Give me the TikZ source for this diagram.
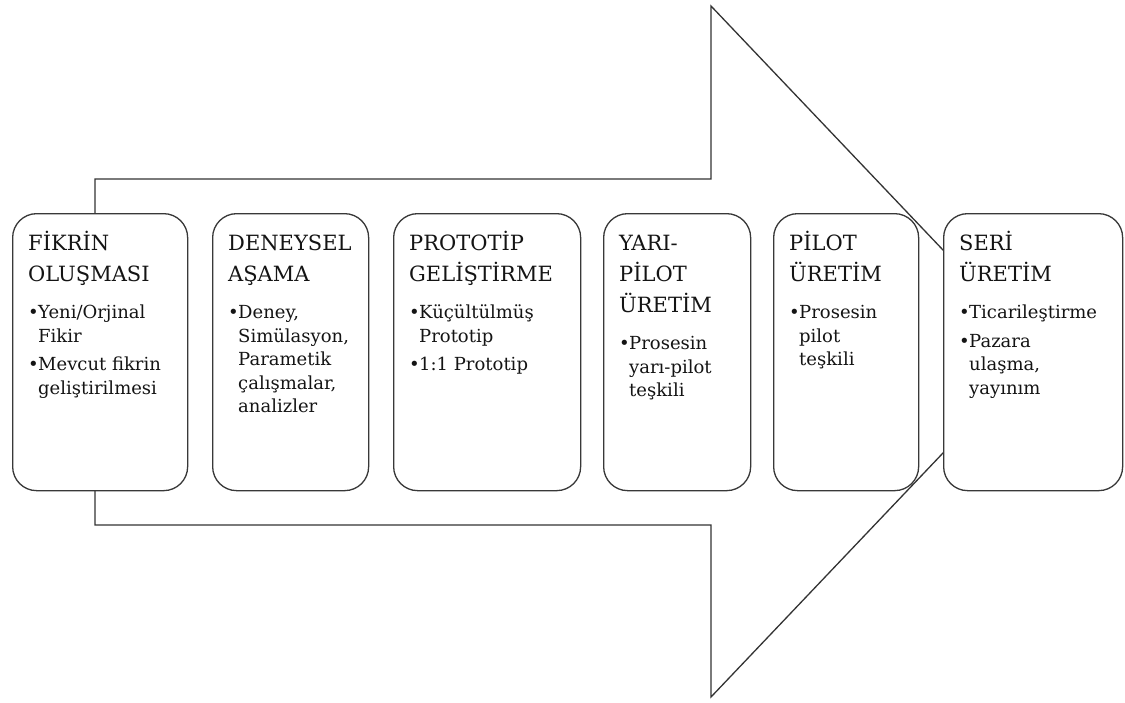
\documentclass[tikz,border=0pt]{standalone}
\usepackage{fontspec}
\setmainfont{DejaVu Serif}

% bullet item and continuation line with hanging indent
\newcommand\bitem{\makebox[10pt][l]{•}}
\newcommand\bcont{\hspace*{10pt}}
% stage label: title block followed by bullet block
\newcommand\stagelabel[2]{\parbox[t]{150pt}{\raggedright
  \fontsize{21}{31}\selectfont #1\par
  \vspace{14pt}\fontsize{18}{23.5}\selectfont #2\par}}

\begin{document}
\begin{tikzpicture}[x=1pt,y=-1pt,
  arrowline/.style={draw=black!80, line width=1.3pt, line join=miter},
  stagebox/.style={draw=black!78, line width=1.3pt, fill=white,
    rounded corners=24pt, minimum width=#1, minimum height=277pt,
    inner sep=0pt, anchor=north west},
  stagetext/.style={anchor=base west, inner sep=0pt, text=black!92}]

\useasboundingbox (0,0) rectangle (1125,702);
\fill[white] (0,0) rectangle (1125,702);

% big process arrow behind the stages
\draw[arrowline] (95,179) -- (711,179) -- (711,6) -- (1039.5,351.5)
  -- (711,697) -- (711,525) -- (95,525) -- cycle;

% stage boxes
\node[stagebox=175pt] (b1) at (12,213) {};
\node[stagebox=156pt] (b2) at (212,213) {};
\node[stagebox=187pt] (b3) at (393,213) {};
\node[stagebox=147pt] (b4) at (603,213) {};
\node[stagebox=145pt] (b5) at (773,213) {};
\node[stagebox=179pt] (b6) at (943,213) {};

% stage texts
\node[stagetext] (t1) at ([xshift=16pt,yshift=-37pt]b1.north west)
  {\stagelabel{FİKRİN\\OLUŞMASI}
   {\bitem Yeni/Orjinal\\\bcont Fikir\\[5pt]\bitem Mevcut fikrin\\\bcont geliştirilmesi}};
\node[stagetext] (t2) at ([xshift=16pt,yshift=-37pt]b2.north west)
  {\stagelabel{DENEYSEL\\AŞAMA}
   {\bitem Deney,\\\bcont Simülasyon,\\\bcont Parametik\\\bcont çalışmalar,\\\bcont analizler}};
\node[stagetext] (t3) at ([xshift=16pt,yshift=-37pt]b3.north west)
  {\stagelabel{PROTOTİP\\GELİŞTİRME}
   {\bitem Küçültülmüş\\\bcont Prototip\\[5pt]\bitem 1:1 Prototip}};
\node[stagetext] (t4) at ([xshift=16pt,yshift=-37pt]b4.north west)
  {\stagelabel{YARI-\\PİLOT\\ÜRETİM}
   {\bitem Prosesin\\\bcont yarı-pilot\\\bcont teşkili}};
\node[stagetext] (t5) at ([xshift=16pt,yshift=-37pt]b5.north west)
  {\stagelabel{PİLOT\\ÜRETİM}
   {\bitem Prosesin\\\bcont pilot\\\bcont teşkili}};
\node[stagetext] (t6) at ([xshift=16pt,yshift=-37pt]b6.north west)
  {\stagelabel{SERİ\\ÜRETİM}
   {\bitem Ticarileştirme\\[5pt]\bitem Pazara\\\bcont ulaşma,\\\bcont yayınım}};
\end{tikzpicture}
\end{document}
